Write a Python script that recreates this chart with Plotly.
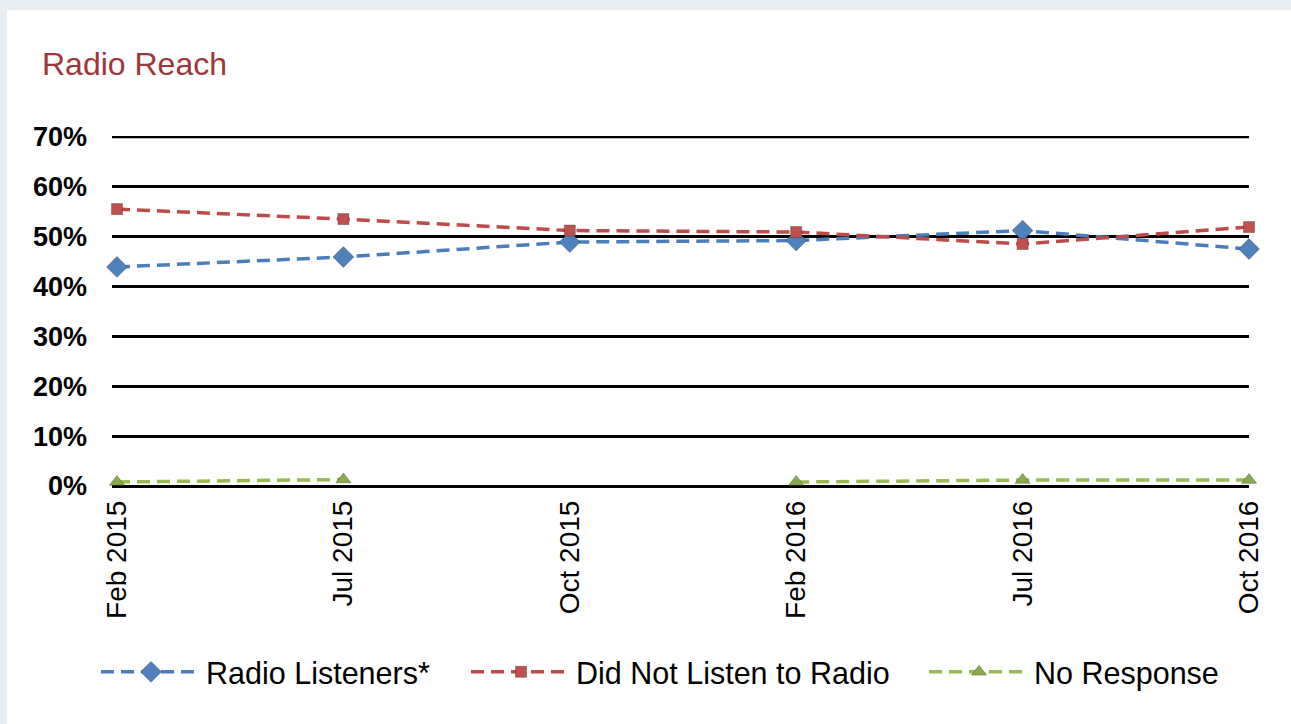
import plotly.graph_objects as go

# survey waves
waves = ["Feb 2015", "Jul 2015", "Oct 2015", "Feb 2016", "Jul 2016", "Oct 2016"]

# shares of respondents (fractions)
radio_listeners = [0.439, 0.459, 0.489, 0.492, 0.512, 0.475]
did_not_listen = [0.555, 0.535, 0.512, 0.509, 0.485, 0.519]
no_response = [0.008, 0.013, None, 0.008, 0.012, 0.012]

y_ticks = [0, 0.1, 0.2, 0.3, 0.4, 0.5, 0.6, 0.7]

FONT = "Liberation Sans, Arial, sans-serif"

W, H = 1291, 724
L, R, T, B = 112, 42, 136, 238
PW, PH = W - L - R, H - T - B


def px_x(px):
    return (px - L) / PW


def px_y(py):
    return (H - B - py) / PH


fig = go.Figure()

series = [
    ("Radio Listeners*", radio_listeners, "#4a7ebb", "#4f81bd", "diamond", 16, "legend"),
    ("Did Not Listen to Radio", did_not_listen, "#be4b48", "#c0504d", "square", 11, "legend2"),
    ("No Response", no_response, "#98b954", "#8aab4a", "triangle-up", 13, "legend3"),
]

for name, vals, line_col, marker_col, symbol, size, leg in series:
    fig.add_trace(go.Scatter(
        x=waves, y=vals, name=name, legend=leg,
        mode="lines+markers",
        line=dict(color=line_col, width=3.5, dash="13px,7px"),
        marker=dict(symbol=symbol, size=size, color=marker_col,
                    line=dict(color="rgba(40,40,40,0.35)", width=1)),
        connectgaps=False,
        cliponaxis=False,
    ))

legend_style = dict(orientation="h", xanchor="left", y=px_y(672), yanchor="middle",
                    font=dict(size=30.5, family=FONT), bgcolor="rgba(0,0,0,0)",
                    itemwidth=100)

fig.update_layout(
    width=W, height=H,
    margin=dict(l=L, r=R, t=T, b=B),
    paper_bgcolor="#e9eef2",
    plot_bgcolor="white",
    font=dict(family=FONT, color="black"),
    title=dict(text="Radio Reach", x=42 / W, xref="container", xanchor="left",
               y=1 - 64 / H, yref="container", yanchor="middle",
               font=dict(size=32, color="#a0353a", family=FONT)),
    showlegend=True,
    legend=dict(x=px_x(96), **legend_style),
    legend2=dict(x=px_x(466), **legend_style),
    legend3=dict(x=px_x(924), **legend_style),
    shapes=[dict(type="rect", xref="paper", yref="paper", layer="below",
                 x0=px_x(7), x1=px_x(W + 5), y0=px_y(H + 5), y1=px_y(10),
                 fillcolor="white", line=dict(width=0))],
)

# top gridline sits on the plot edge, so draw it explicitly
fig.add_hline(y=y_ticks[-1], line=dict(color="black", width=3), layer="below")

fig.update_xaxes(
    type="category", range=[-0.022, 5.0],
    showgrid=False, zeroline=False, showline=False,
    tickangle=-90, ticks="", ticklabelstandoff=8,
    tickfont=dict(size=28, family=FONT, color="black"),
)

fig.update_yaxes(
    range=[0, 0.7015], tickvals=y_ticks, tickformat=".0%",
    showgrid=True, gridcolor="black", gridwidth=3,
    zeroline=True, zerolinecolor="black", zerolinewidth=3,
    showline=False, ticks="", ticklabelstandoff=24,
    tickfont=dict(size=27, family=FONT, color="black", weight="bold"),
)

fig.write_html("out.html", config={"displayModeBar": False},
               post_script="document.body.style.margin='0px';")
